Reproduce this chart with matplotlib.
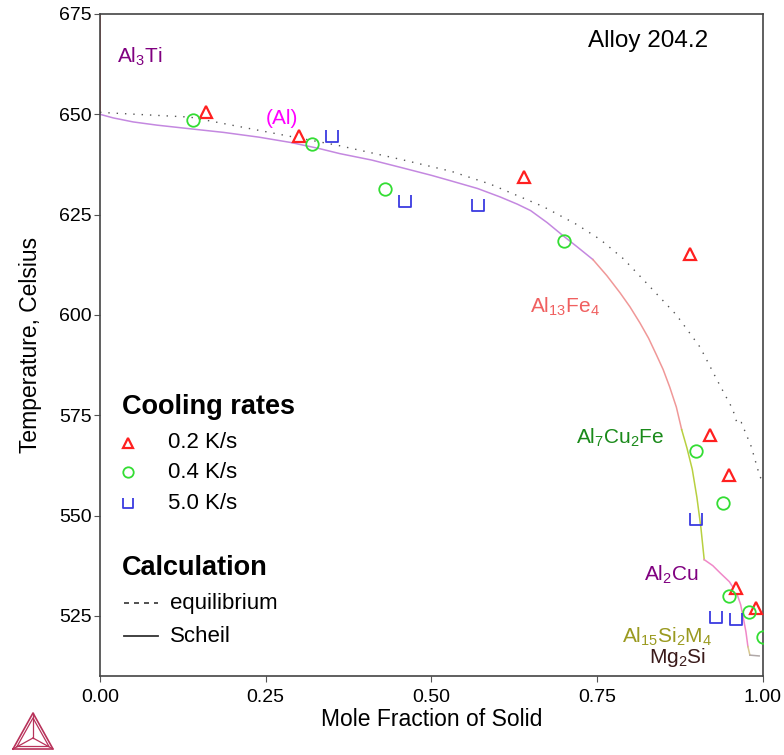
import numpy as np
import matplotlib
matplotlib.use("Agg")
import matplotlib.pyplot as plt
from matplotlib.path import Path

plt.rcParams['font.family'] = ['Liberation Sans', 'DejaVu Sans']
plt.rcParams['mathtext.fontset'] = 'custom'
plt.rcParams['mathtext.rm'] = 'Liberation Sans'
plt.rcParams['mathtext.default'] = 'regular'

# measured solidification points (mole fraction solid, T in C)
rate_02_x = [0.16, 0.30, 0.64, 0.89, 0.92, 0.95, 0.96, 0.99]
rate_02_T = [650.5, 644.5, 634.3, 615.3, 570, 560, 532, 527]
rate_04_x = [0.14, 0.32, 0.43, 0.70, 0.90, 0.94, 0.95, 0.98, 1.00]
rate_04_T = [648.5, 642.5, 631.5, 618.3, 566.2, 553.2, 530, 526, 519.7]
rate_50_x = [0.35, 0.46, 0.57, 0.90, 0.93, 0.96]
rate_50_T = [644.5, 628.3, 627.3, 549.2, 524.7, 524.2]

# equilibrium solidification path
eq_x = [0.0, 0.02, 0.136, 0.287, 0.358, 0.453, 0.53, 0.589, 0.669, 0.72, 0.755, 0.79, 0.82,
        0.87, 0.906, 0.931, 0.955, 0.962, 0.968, 0.983, 0.996, 1.0]
eq_T = [650.5, 650.3, 649.3, 644.5, 642.3, 638.8, 635.8, 632.6, 627.0, 622.5, 618.8, 614.0, 608.8,
        600.0, 591.9, 583.9, 576.5, 572.8, 573.2, 567.2, 559.7, 558.7]

# Scheil path, one piece per phase that forms
scheil_segments = [
    ("Al3Ti", "#e05050", [0.0, 0.0], [675.0, 650.0]),
    ("(Al)", "#c488e0",
     [0.0, 0.02, 0.05, 0.086, 0.13, 0.186, 0.24, 0.287, 0.33, 0.362, 0.41, 0.453, 0.50,
      0.53, 0.57, 0.604, 0.63, 0.65, 0.675, 0.70, 0.72, 0.744],
     [650.0, 649.1, 648.1, 647.3, 646.5, 645.5, 644.3, 643.0, 641.5, 640.2, 638.6, 636.8, 634.8,
      633.4, 631.5, 629.4, 627.6, 626.0, 623.0, 619.6, 617.0, 613.8]),
    ("Al13Fe4", "#f09898",
     [0.744, 0.765, 0.785, 0.80, 0.815, 0.828, 0.84, 0.85, 0.86, 0.87, 0.878],
     [613.8, 609.8, 605.5, 602.0, 598.0, 594.2, 590.0, 586.4, 582.0, 577.0, 571.4]),
    ("Al7Cu2Fe", "#b8d040", [0.878, 0.886, 0.894, 0.901, 0.907, 0.912],
     [571.4, 566.8, 561.5, 554.5, 547.0, 539.0]),
    ("Al2Cu", "#f088c8", [0.912, 0.925, 0.936, 0.95, 0.961, 0.967, 0.971, 0.975, 0.978],
     [539.0, 537.5, 535.7, 533.5, 530.7, 527.8, 524.5, 521.0, 517.3]),
    ("Al15Si2M4", "#d8c890", [0.978, 0.981], [517.3, 515.2]),
    ("Mg2Si", "#b0a8a8", [0.981, 0.995], [515.2, 515.0]),
]

phase_labels = [
    (r"Al$_3$Ti", 0.06, 664.3, "#800080"),
    ("(Al)", 0.275, 649.0, "#ff00ff"),
    (r"Al$_{13}$Fe$_4$", 0.702, 601.9, "#f06060"),
    (r"Al$_7$Cu$_2$Fe", 0.785, 569.4, "#1a8a1a"),
    (r"Al$_2$Cu", 0.863, 535.2, "#800080"),
    (r"Al$_{15}$Si$_2$M$_4$", 0.856, 519.7, "#9a9a20"),
    (r"Mg$_2$Si", 0.871, 514.5, "#3a1a1a"),
]

x_ticks = [0.0, 0.25, 0.5, 0.75, 1.0]
y_ticks = [525, 550, 575, 600, 625, 650, 675]

cup = Path([(-1, 1), (-1, -1), (1, -1), (1, 1)],
           [Path.MOVETO, Path.LINETO, Path.LINETO, Path.LINETO])

fig = plt.figure(figsize=(7.84, 7.55), dpi=100)
ax = fig.add_axes([100 / 784, 1 - 676 / 755, 662.5 / 784, 662 / 755])

for name, col, xs, ts in scheil_segments:
    ax.plot(xs, ts, color=col, lw=1.1, zorder=2)
ax.plot(eq_x, eq_T, color="#555555", lw=1.0, ls=(0, (1, 5)), zorder=2)

tri_kw = dict(ls="none", marker="^", ms=8, mfc="white", mec="#ff2020", mew=1.6, zorder=4)
circ_kw = dict(ls="none", marker="o", ms=9, mfc="none", mec="#33dd33", mew=1.3, zorder=4)
sq_kw = dict(ls="none", marker=cup, ms=8, mfc="none", mec="#3a3ae0", mew=1.3, zorder=4)
ax.plot(rate_02_x, rate_02_T, **tri_kw)
ax.plot(rate_04_x, rate_04_T, **circ_kw)
ax.plot(rate_50_x, rate_50_T, **sq_kw)

for txt, x, t, col in phase_labels:
    ax.text(x, t, txt, color=col, fontsize=15, ha="center", va="center", zorder=5)

ax.text(0.827, 668.3, "Alloy 204.2", fontsize=17.5, ha="center", va="center")

# legend block
tr = ax.transAxes
ax.text(0.033, 0.406, "Cooling rates", transform=tr, fontsize=19.5, fontweight="bold", va="center")
rows = [(0.352, tri_kw, "0.2 K/s"), (0.308, circ_kw, "0.4 K/s"), (0.261, sq_kw, "5.0 K/s")]
for yy, kw, lab in rows:
    k = dict(kw)
    k["ms"] = k["ms"] - 1.5
    ax.plot([0.042], [yy], transform=tr, clip_on=False, **k)
    ax.text(0.103, yy, lab, transform=tr, fontsize=16, va="center")
ax.text(0.033, 0.163, "Calculation", transform=tr, fontsize=19.5, fontweight="bold", va="center")
ax.plot([0.036, 0.088], [0.110, 0.110], transform=tr, color="#333333", lw=1.2, ls=(0, (3, 3)))
ax.text(0.106, 0.110, "equilibrium", transform=tr, fontsize=16, va="center")
ax.plot([0.036, 0.088], [0.060, 0.060], transform=tr, color="#333333", lw=1.3)
ax.text(0.106, 0.060, "Scheil", transform=tr, fontsize=16, va="center")

ax.set_xlim(0, 1)
ax.set_ylim(510, 675)
ax.set_xticks(x_ticks)
ax.set_xticklabels(["%.2f" % v for v in x_ticks])
ax.set_yticks(y_ticks)
ax.tick_params(labelsize=14, length=4, color="#555555", direction="out")
ax.tick_params(axis="y", pad=2)
ax.tick_params(axis="x", pad=5)
for sp in ax.spines.values():
    sp.set_color("#444444")
    sp.set_linewidth(1.2)
ax.set_xlabel("Mole Fraction of Solid", fontsize=16.5, labelpad=1.5)
ax.set_ylabel("Temperature, Celsius", fontsize=16.5, labelpad=12)

# small triangle logo in the corner
lax = fig.add_axes([8 / 784, 1 - 752 / 755, 50 / 784, 42 / 755])
lax.set_xlim(0, 50)
lax.set_ylim(0, 42)
lax.axis("off")
lc = "#b8325a"
lax.plot([5, 25, 45, 5], [3, 39, 3, 3], color=lc, lw=1.2)
lax.plot([9, 25, 41, 9], [5.5, 34, 5.5, 5.5], color=lc, lw=0.9)
for vx, vy in [(5, 3), (25, 39), (45, 3)]:
    lax.plot([25, vx], [14, vy], color=lc, lw=0.9)

fig.savefig("out.png", dpi=100)
